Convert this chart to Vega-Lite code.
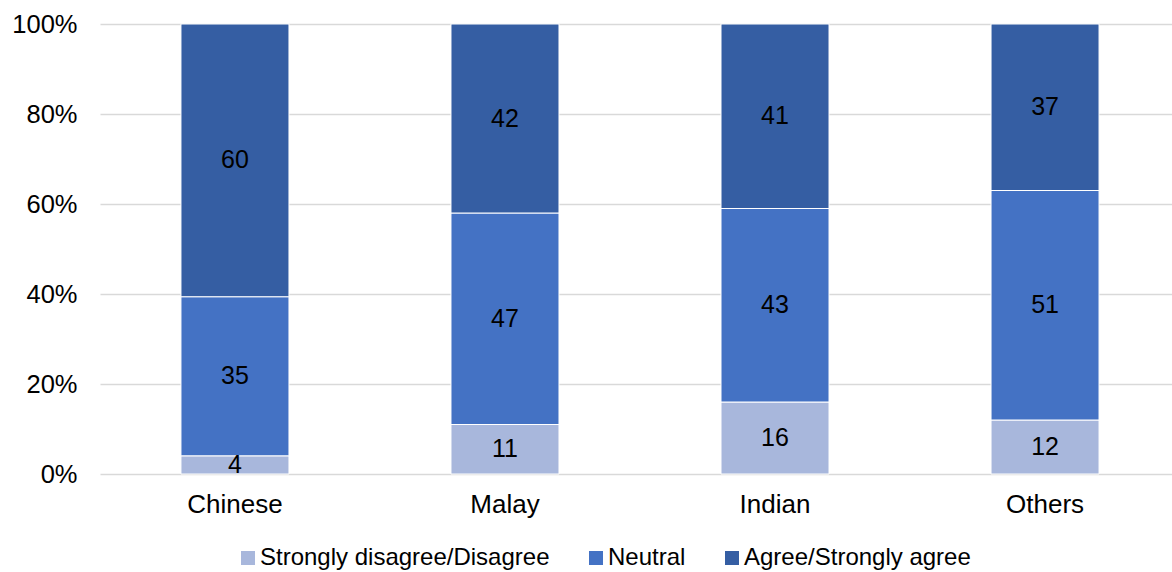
{
  "$schema": "https://vega.github.io/schema/vega-lite/v6.json",
  "autosize": "none",
  "width": 1072,
  "height": 450,
  "padding": {"left": 100, "top": 24, "right": 0, "bottom": 98},
  "background": "white",
  "config": {
    "font": "Liberation Sans",
    "view": {"stroke": null}
  },
  "data": {
    "values": [
      {"group": "Chinese", "response": "Strongly disagree/Disagree", "value": 4},
      {"group": "Chinese", "response": "Neutral", "value": 35},
      {"group": "Chinese", "response": "Agree/Strongly agree", "value": 60},
      {"group": "Malay", "response": "Strongly disagree/Disagree", "value": 11},
      {"group": "Malay", "response": "Neutral", "value": 47},
      {"group": "Malay", "response": "Agree/Strongly agree", "value": 42},
      {"group": "Indian", "response": "Strongly disagree/Disagree", "value": 16},
      {"group": "Indian", "response": "Neutral", "value": 43},
      {"group": "Indian", "response": "Agree/Strongly agree", "value": 41},
      {"group": "Others", "response": "Strongly disagree/Disagree", "value": 12},
      {"group": "Others", "response": "Neutral", "value": 51},
      {"group": "Others", "response": "Agree/Strongly agree", "value": 37}
    ]
  },
  "transform": [
    {"stack": "value", "groupby": ["group"], "offset": "normalize", "sort": [{"field": "response", "order": "descending"}], "as": ["v0", "v1"]},
    {"calculate": "(datum.v0 + datum.v1) / 2", "as": "vmid"}
  ],
  "encoding": {
    "x": {
      "field": "group", "type": "nominal",
      "sort": ["Chinese", "Malay", "Indian", "Others"],
      "scale": {"paddingInner": 0.6, "paddingOuter": 0.285, "align": 0.526},
      "axis": {"title": null, "labelAngle": 0, "labelFontSize": 26, "labelColor": "#000000", "ticks": false, "domain": false, "labelPadding": 17}
    }
  },
  "layer": [
    {
      "mark": {"type": "bar", "stroke": "white", "strokeWidth": 1},
      "encoding": {
        "y": {
          "field": "v0", "type": "quantitative",
          "scale": {"domain": [0, 1], "nice": false},
          "axis": {"title": null, "format": ".0%", "values": [0, 0.2, 0.4, 0.6, 0.8, 1], "labelFontSize": 25.5, "labelColor": "#000000", "ticks": false, "domain": false, "labelPadding": 23, "gridColor": "#D9D9D9", "gridWidth": 1.5}
        },
        "y2": {"field": "v1"},
        "color": {
          "field": "response", "type": "nominal",
          "scale": {
            "domain": ["Strongly disagree/Disagree", "Neutral", "Agree/Strongly agree"],
            "range": ["#A8B7DC", "#4472C4", "#355EA3"]
          },
          "legend": {
            "title": null, "orient": "none", "direction": "horizontal",
            "legendX": 136, "legendY": 522,
            "symbolType": "square", "symbolSize": 196, "symbolStrokeWidth": 0,
            "labelFontSize": 24, "labelColor": "#000000", "labelLimit": 0, "columnPadding": 34,
            "labelOffset": 0
          }
        }
      }
    },
    {
      "mark": {"type": "text", "fontSize": 25, "color": "#000000", "baseline": "middle"},
      "encoding": {
        "y": {"field": "vmid", "type": "quantitative"},
        "text": {"field": "value", "type": "quantitative"}
      }
    }
  ]
}
